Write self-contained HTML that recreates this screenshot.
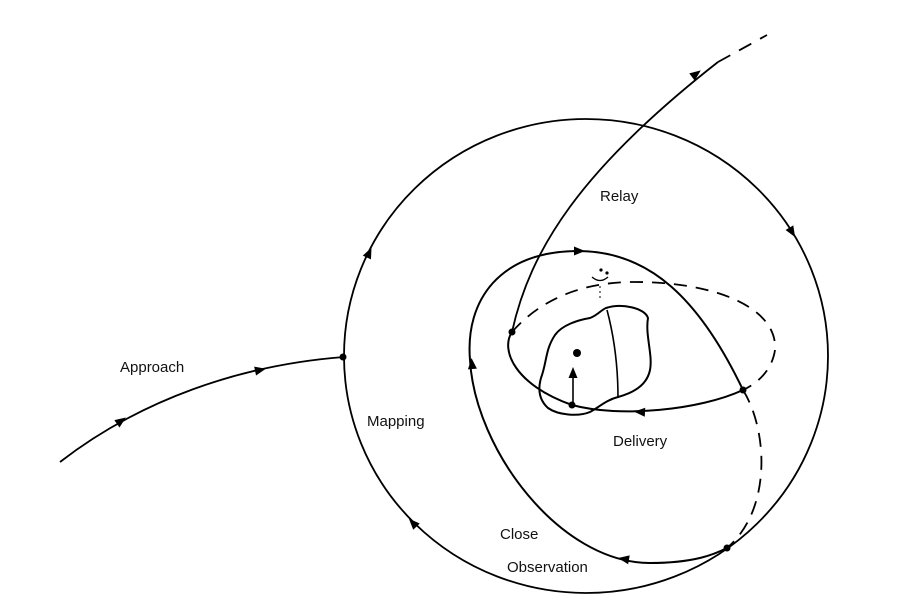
<!DOCTYPE html>
<html><head><style>body{margin:0;background:#fff}svg{display:block}text{font-family:"Liberation Sans",Arial,sans-serif;font-size:15px;fill:#111}</style></head>
<body>
<svg width="897" height="613" viewBox="0 0 897 613" xmlns="http://www.w3.org/2000/svg">
<g fill="none" stroke="#000" stroke-width="1.8">
<ellipse cx="586" cy="356" rx="242" ry="237"/>
<path d="M60 462 C 140 400, 240 365, 344 357"/>
<path d="M512 332 C 530 250, 580 170, 718 62"/>
<path d="M718 62 L767 35" stroke-dasharray="14,10"/>
<path d="M743 390 C 700 300, 650 251, 578 251 C 500 251, 465 300, 470 360 C 475 450, 560 563, 650 563 C 695 563, 715 554, 727 548" stroke-width="2"/>
<path d="M743 390 C 768 430, 772 510, 727 548" stroke-dasharray="14,9"/>
<path d="M512 332 C 500 350, 515 385, 572 405 C 620 418, 700 410, 743 390" stroke-width="2"/>
<path d="M512 332 C 540 300, 580 283, 630 282 C 720 281, 778 310, 775 350 C 772 370, 758 383, 743 390" stroke-dasharray="13,9"/>
<path d="M606 308 C 622 303, 645 308, 648 318 C 645 335, 653 355, 650 370 C 647 385, 633 393, 618 397 C 606 400, 598 408, 590 412 C 578 417, 558 415, 548 408 C 537 398, 539 385, 541 378 C 547 362, 545 350, 555 335 C 562 325, 578 320, 590 318 C 598 315, 601 310, 606 308 Z" stroke-width="2"/>
<path d="M607 310 C 615 340, 618 370, 618 398" stroke-width="1.6"/>
<path d="M573 405 L573 372" stroke-width="1.6"/>
<path d="M600 286 L600 300" stroke-width="1" stroke-dasharray="2,3"/>
<path d="M592 277 Q600 284 608 277" stroke-width="1.3"/>
</g>
<g fill="#000">
<circle cx="343" cy="357" r="3.5"/>
<circle cx="512" cy="332" r="3.5"/>
<circle cx="577" cy="353" r="4"/>
<circle cx="572" cy="405" r="3.5"/>
<circle cx="743" cy="390" r="3.5"/>
<circle cx="727" cy="548" r="3.5"/>
<circle cx="601" cy="270" r="1.6"/>
<circle cx="607" cy="273" r="1.6"/>
<polygon points="-5,-4.5 6,0 -5,4.5" transform="translate(121,421) rotate(-35)"/>
<polygon points="-5,-4.5 6,0 -5,4.5" transform="translate(260,370) rotate(-12)"/>
<polygon points="-5,-4.5 6,0 -5,4.5" transform="translate(369,253) rotate(-65)"/>
<polygon points="-5,-4.5 6,0 -5,4.5" transform="translate(413,523) rotate(-134)"/>
<polygon points="-5,-4.5 6,0 -5,4.5" transform="translate(792,232) rotate(59)"/>
<polygon points="-5,-4.5 6,0 -5,4.5" transform="translate(696,74) rotate(-37)"/>
<polygon points="-5,-4.5 6,0 -5,4.5" transform="translate(579,251) rotate(0)"/>
<polygon points="-5,-4.5 6,0 -5,4.5" transform="translate(472,364) rotate(-95)"/>
<polygon points="-5,-4.5 6,0 -5,4.5" transform="translate(624,559) rotate(-170)"/>
<polygon points="-5,-4.5 6,0 -5,4.5" transform="translate(640,412) rotate(183)"/>
<polygon points="-5,-4.5 6,0 -5,4.5" transform="translate(573,373) rotate(-90)"/>
</g>
<text x="600" y="201">Relay</text>
<text x="120" y="372">Approach</text>
<text x="367" y="426">Mapping</text>
<text x="613" y="446">Delivery</text>
<text x="500" y="539">Close</text>
<text x="507" y="572">Observation</text>
</svg>
</body></html>
